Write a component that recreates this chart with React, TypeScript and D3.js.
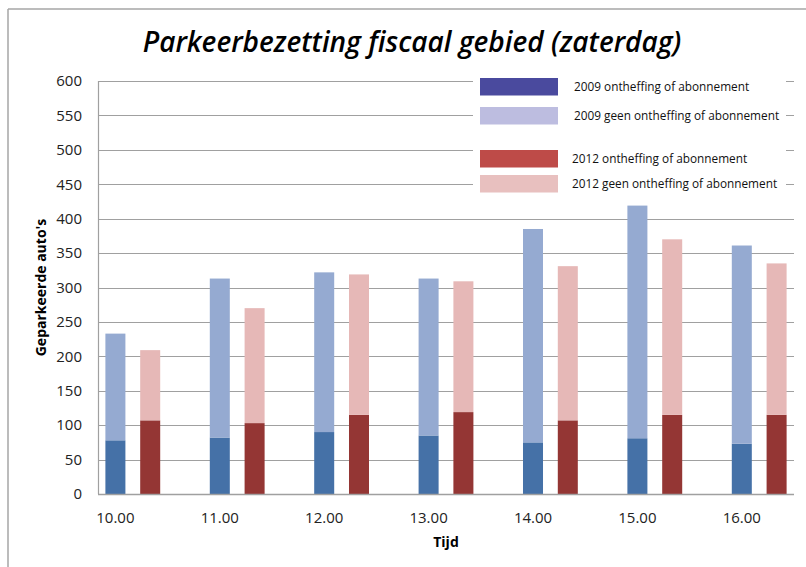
import React from "react";
import * as d3 from "d3";

const categories = ["10.00", "11.00", "12.00", "13.00", "14.00", "15.00", "16.00"];
const ontheffing2009 = [78, 82, 90, 85, 75, 81, 73];
const geen2009 = [155, 231, 232, 228, 310, 338, 288];
const ontheffing2012 = [107, 103, 115, 119, 107, 115, 115];
const geen2012 = [102, 167, 204, 190, 224, 255, 220];
const yTicks = [0, 50, 100, 150, 200, 250, 300, 350, 400, 450, 500, 550, 600];
const legendLabels = [
  "2009 ontheffing of abonnement",
  "2009 geen ontheffing of abonnement",
  "2012 ontheffing of abonnement",
  "2012 geen ontheffing of abonnement",
];
const title = "Parkeerbezetting fiscaal gebied (zaterdag)";
const yTitle = "Geparkeerde auto's";
const xTitle = "Tijd";

const W = 806;
const H = 567;
const left = 98;
const right = 794;
const top = 81;
const bottom = 494;

const barColors = { d09: "#4571A7", l09: "#95AAD1", d12: "#943634", l12: "#E6B8B7" };
const legendColors = ["#4A4A9E", "#BDBDE0", "#BE4B48", "#E8C0BF"];

export default function App() {
  const slots: string[] = [];
  categories.forEach((c, i) => {
    slots.push(c + "|2009");
    slots.push(c + "|2012");
    if (i < categories.length - 1) slots.push(c + "|gap");
  });
  const pi = 0.425;
  const x = d3.scaleBand<string>().domain(slots).range([left, right]).paddingInner(pi).paddingOuter(pi / 2);
  const y = d3.scaleLinear().domain([0, 600]).range([bottom, top]);
  const bw = x.bandwidth();

  const stacks = categories.map((c, i) => ({
    c,
    s09: [ontheffing2009[i], geen2009[i]],
    s12: [ontheffing2012[i], geen2012[i]],
  }));

  const legendY = [78, 107, 150, 175];
  const legendTextX = [574, 574, 572, 572];

  const font = "'Open Sans', 'DejaVu Sans', sans-serif";

  return (
    <svg width={W} height={H} style={{ position: "absolute", left: 0, top: 0, background: "#fff" }} fontFamily={font}>
      <rect x={0} y={0} width={W} height={H} fill="#fff" />
      {/* outer border */}
      <line x1={8} y1={9} x2={W} y2={9} stroke="#A6A6A6" strokeWidth={1.5} />
      <line x1={8} y1={9} x2={8} y2={H} stroke="#A6A6A6" strokeWidth={1.5} />

      <text x={412} y={52} textAnchor="middle" fontSize={28} fontStyle="italic" fontWeight={600} fill="#000">
        {title}
      </text>

      {/* gridlines */}
      {yTicks.map((t) => (
        <line key={t} x1={left} x2={right} y1={Math.round(y(t)) + 0.5} y2={Math.round(y(t)) + 0.5} stroke="#A0A0A0" strokeWidth={1.2} />
      ))}
      <line x1={left + 0.5} x2={left + 0.5} y1={top} y2={bottom} stroke="#A0A0A0" strokeWidth={1.2} />

      {/* y tick labels */}
      {yTicks.map((t) => (
        <text key={t} x={82} y={y(t)} dy="0.35em" textAnchor="end" fontSize={15} fill="#222">
          {t}
        </text>
      ))}

      {/* legend box */}
      <rect x={473} y={72} width={313} height={124} fill="#fff" />

      {/* bars */}
      {stacks.map((s) => {
        const x09 = x(s.c + "|2009")!;
        const x12 = x(s.c + "|2012")!;
        return (
          <g key={s.c}>
            <rect x={x09} width={bw} y={y(s.s09[0])} height={y(0) - y(s.s09[0])} fill={barColors.d09} />
            <rect x={x09} width={bw} y={y(s.s09[0] + s.s09[1])} height={y(s.s09[0]) - y(s.s09[0] + s.s09[1])} fill={barColors.l09} />
            <rect x={x12} width={bw} y={y(s.s12[0])} height={y(0) - y(s.s12[0])} fill={barColors.d12} />
            <rect x={x12} width={bw} y={y(s.s12[0] + s.s12[1])} height={y(s.s12[0]) - y(s.s12[0] + s.s12[1])} fill={barColors.l12} />
          </g>
        );
      })}

      {/* x axis line */}
      <line x1={left} x2={right} y1={bottom + 0.5} y2={bottom + 0.5} stroke="#A0A0A0" strokeWidth={1.5} />

      {/* x labels */}
      {categories.map((c) => (
        <text key={c} x={x(c + "|2009")! + bw / 2} y={518} dy="0.35em" textAnchor="middle" fontSize={15} fill="#222">
          {c}
        </text>
      ))}

      <text x={(left + right) / 2} y={542} dy="0.35em" textAnchor="middle" fontSize={14} fontWeight={700} fill="#000">
        {xTitle}
      </text>
      <text transform={`translate(41,${(top + bottom) / 2}) rotate(-90)`} dy="0.35em" textAnchor="middle" fontSize={14} fontWeight={700} fill="#000">
        {yTitle}
      </text>

      {/* legend */}
      {legendLabels.map((l, i) => (
        <g key={l}>
          <rect x={480} y={legendY[i]} width={78} height={17.5} fill={legendColors[i]} />
          <text x={legendTextX[i]} y={legendY[i] + 9} dy="0.35em" fontSize={11.8} fill="#111">
            {l}
          </text>
        </g>
      ))}
    </svg>
  );
}
